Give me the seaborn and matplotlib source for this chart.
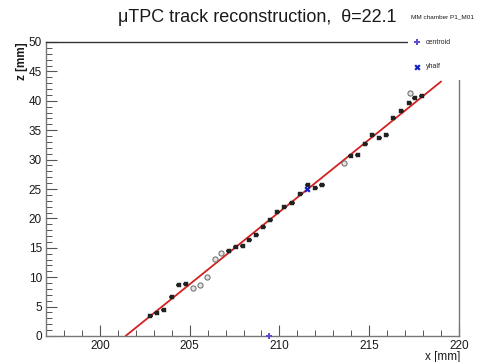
import numpy as np
import pandas as pd
import matplotlib
matplotlib.use("Agg")
import matplotlib.pyplot as plt
from matplotlib.patches import Rectangle
import seaborn as sns

# Strip hits along the reconstructed track (x in mm, z in mm)
hit_x = [202.81, 203.18, 203.57, 204.00, 204.39, 204.79, 207.17, 207.56, 207.96,
         208.33, 208.72, 209.10, 209.50, 209.88, 210.28, 210.70, 211.17, 211.57,
         212.00, 212.37, 213.98, 214.35, 214.78, 215.18, 215.56, 215.96, 216.33,
         216.79, 217.22, 217.54, 217.93]
hit_z = [3.45, 3.96, 4.37, 6.68, 8.72, 8.79, 14.46, 15.08, 15.36,
         16.33, 17.20, 18.60, 19.70, 21.10, 21.90, 22.60, 24.15, 25.73,
         25.12, 25.73, 30.61, 30.73, 32.60, 34.13, 33.62, 34.13, 37.07,
         38.27, 39.56, 40.54, 40.82]

# Hits flagged with a secondary marker
ring_x = [205.20, 205.59, 205.96, 206.39, 206.76, 213.57, 217.28]
ring_z = [8.16, 8.62, 10.09, 13.04, 14.06, 29.47, 41.40]

# Linear track fit: z = slope * (x - x0)
fit_x = [201.43, 219.00]
fit_slope = 2.463
fit_z = [fit_slope * (v - fit_x[0]) for v in fit_x]

centroid_x = [209.40]
centroid_z = [0.0]
yhalf_x = [211.52]
yhalf_z = [24.95]

theta = 22.1

sns.set_theme(style="white")
plt.rcParams["font.family"] = ["Liberation Sans", "DejaVu Sans"]

W, H = 483, 362
fig = plt.figure(figsize=(W / 100, H / 100), dpi=100)
ax = fig.add_axes([46 / W, 1 - 336 / H, (459 - 46) / W, (336 - 42) / H])

fit_df = pd.DataFrame({"x": fit_x, "z": fit_z})
sns.lineplot(data=fit_df, x="x", y="z", color="#d42020", lw=1.3, ax=ax, zorder=2)

hits = pd.DataFrame({"x": hit_x, "z": hit_z})
ax.errorbar(hits["x"], hits["z"], xerr=0.14, fmt="none", ecolor="#111111",
            elinewidth=1.1, zorder=3)
sns.scatterplot(data=hits, x="x", y="z", marker="s", s=5, color="#222222",
                edgecolor="#222222", linewidth=0.3, ax=ax, zorder=4)

rings = pd.DataFrame({"x": ring_x, "z": ring_z})
sns.scatterplot(data=rings, x="x", y="z", marker="o", s=14, facecolor="#e4e4e4",
                edgecolor="#666666", linewidth=0.7, ax=ax, zorder=4)

sns.scatterplot(x=centroid_x, y=centroid_z, marker="P", s=20, color="#5a4fd0",
                linewidth=0, ax=ax, zorder=5, clip_on=False, label="centroid")
sns.scatterplot(x=yhalf_x, y=yhalf_z, marker="X", s=20, color="#1020c8",
                linewidth=0, ax=ax, zorder=5, label="yhalf")

ax.set_xlim(197, 220)
ax.set_ylim(0, 50)
ax.set_xticks([200, 205, 210, 215, 220])
ax.set_yticks([0, 5, 10, 15, 20, 25, 30, 35, 40, 45, 50])
ax.set_xticks(np.arange(197, 221, 1), minor=True)
ax.set_yticks(np.arange(0, 51, 1), minor=True)
ax.tick_params(which="major", direction="in", length=8, width=0.8, color="#555555",
               labelsize=8.5, labelcolor="#1a1a1a", pad=3)
ax.tick_params(which="minor", direction="in", length=4, width=0.7, color="#555555")
ax.tick_params(bottom=True, left=True, top=False, right=False, which="both")
for side in ["left", "bottom", "right"]:
    ax.spines[side].set_color("#777777")
    ax.spines[side].set_linewidth(1.0)
ax.spines["top"].set_color("#333333")
ax.spines["top"].set_linewidth(1.0)

ax.set_xlabel("")
ax.set_ylabel("")
fig.text(460 / W, 1 - 357 / H, "x [mm]", ha="right", va="center", fontsize=8.5,
         color="#1a1a1a")
fig.text(22 / W, 1 - 42 / H, "z [mm]", ha="center", va="top", rotation=90,
         fontsize=8.5, color="#1a1a1a", fontweight="bold")

fig.text(257 / W, 1 - 18 / H, "\u03bcTPC track reconstruction,  \u03b8=%.1f" % theta,
         ha="center", va="center", fontsize=13, color="#1a1a1a")
fig.text(411 / W, 1 - 17 / H, "MM chamber P1_M01", ha="left", va="center",
         fontsize=4.6, color="#1a1a1a")

# Legend panel sits on a white block over the upper-right corner of the frame
fig.add_artist(Rectangle((408 / W, 1 - 80 / H), 1 - 408 / W, (80 - 28) / H,
                         transform=fig.transFigure, facecolor="white",
                         edgecolor="none", zorder=8))
handles, labels = ax.get_legend_handles_labels()
ax.get_legend().remove()
leg = fig.legend(handles, labels, loc="upper left",
                 bbox_to_anchor=(414 / W, 1 - 39 / H), fontsize=5, frameon=False,
                 labelspacing=2.5, handletextpad=0.7, handlelength=1.0,
                 borderpad=0, borderaxespad=0)
leg.set_zorder(9)

fig.savefig("out.png", dpi=100)
